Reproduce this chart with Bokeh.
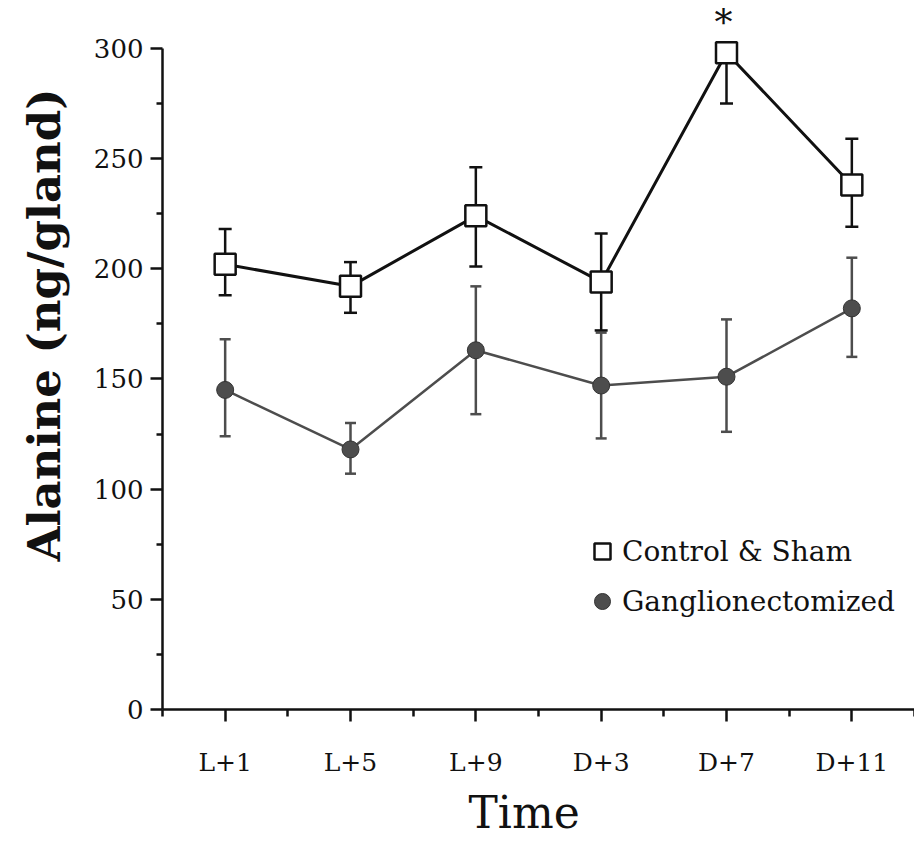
from bokeh.plotting import figure
from bokeh.models import (ColumnDataSource, FixedTicker, Range1d,
                          Legend, LegendItem, Title)
from bokeh.core.properties import value
from bokeh.embed import file_html
from bokeh.resources import INLINE

# ---- data ----
categories = ["L+1", "L+5", "L+9", "D+3", "D+7", "D+11"]
ctrl_mean = [202, 192, 224, 194, 298, 238]
ctrl_hi = [218, 203, 246, 216, 298, 259]
ctrl_lo = [188, 180, 201, 172, 275, 219]
gang_mean = [145, 118, 163, 147, 151, 182]
gang_hi = [168, 130, 192, 171, 177, 205]
gang_lo = [124, 107, 134, 123, 126, 160]
sig_marks = ["", "", "", "", "*", ""]
y_ticks = [0, 50, 100, 150, 200, 250, 300]
y_minor = [25, 75, 125, 175, 225, 275]

FONT = "DejaVu Serif"
BLACK = "#111111"
GREY = "#4d4d4d"

xs = list(range(1, len(categories) + 1))
x_minor = [x - 0.5 for x in xs] + [xs[-1] + 0.5]

ctrl = ColumnDataSource(dict(x=xs, m=ctrl_mean, hi=ctrl_hi, lo=ctrl_lo, sig=sig_marks))
gang = ColumnDataSource(dict(x=xs, m=gang_mean, hi=gang_hi, lo=gang_lo))

p = figure(width=914, height=842,
           x_range=Range1d(0.5, 6.5), y_range=Range1d(0, 321.7),
           output_backend="svg", toolbar_location=None,
           min_border_left=162, min_border_right=0,
           min_border_top=0, min_border_bottom=132)
p.grid.visible = False
p.outline_line_color = None
p.background_fill_color = "white"
p.border_fill_color = "white"

# ---- Ganglionectomized (grey) ----
p.segment(x0="x", y0="lo", x1="x", y1="hi", source=gang, line_color=GREY, line_width=2.5)
p.scatter(x="x", y="hi", source=gang, marker="dash", size=11, line_color=GREY, line_width=2.5)
p.scatter(x="x", y="lo", source=gang, marker="dash", size=11, line_color=GREY, line_width=2.5)
p.line(x="x", y="m", source=gang, line_color=GREY, line_width=2.5)
gang_c = p.scatter(x="x", y="m", source=gang, marker="circle", size=17,
                   fill_color=GREY, line_color="#333333", line_width=1)

# ---- Control & Sham (black) ----
p.segment(x0="x", y0="lo", x1="x", y1="hi", source=ctrl, line_color=BLACK, line_width=2.5)
p.scatter(x="x", y="hi", source=ctrl, marker="dash", size=13, line_color=BLACK, line_width=2.5)
p.scatter(x="x", y="lo", source=ctrl, marker="dash", size=13, line_color=BLACK, line_width=2.5)
p.line(x="x", y="m", source=ctrl, line_color=BLACK, line_width=3)
ctrl_sq = p.scatter(x="x", y="m", source=ctrl, marker="square", size=21,
                    fill_color="white", line_color=BLACK, line_width=2.5)

# significance mark
p.text(x="x", y="m", text="sig", source=ctrl, text_font=value(FONT),
       text_font_size="36px", text_align="center", text_baseline="alphabetic",
       y_offset=-30, x_offset=-3, text_color=BLACK)

# ---- axes ----
xa = p.xaxis[0]
xa.ticker = FixedTicker(ticks=xs, minor_ticks=x_minor)
xa.major_label_overrides = {x: c for x, c in zip(xs, categories)}
xa.major_tick_out = 12
xa.major_tick_in = 0
xa.minor_tick_out = 7
xa.minor_tick_in = 0
xa.axis_line_width = 2.5
xa.major_tick_line_width = 2.5
xa.minor_tick_line_width = 2.5
xa.axis_line_color = BLACK
xa.major_tick_line_color = BLACK
xa.minor_tick_line_color = BLACK
xa.major_label_text_font = FONT
xa.major_label_text_font_size = "25px"
xa.major_label_text_color = BLACK
xa.major_label_standoff = 26

ya = p.yaxis[0]
ya.ticker = FixedTicker(ticks=y_ticks, minor_ticks=y_minor)
ya.bounds = (0, 300)
ya.major_tick_out = 12
ya.major_tick_in = 0
ya.minor_tick_out = 6
ya.minor_tick_in = 0
ya.axis_line_width = 2.5
ya.major_tick_line_width = 2.5
ya.minor_tick_line_width = 2.5
ya.axis_line_color = BLACK
ya.major_tick_line_color = BLACK
ya.minor_tick_line_color = BLACK
ya.major_label_text_font = FONT
ya.major_label_text_font_size = "26px"
ya.major_label_text_color = BLACK
ya.major_label_standoff = 7

# axis titles (off-centre like the reference)
p.add_layout(Title(text="Alanine (ng/gland)", align="left", offset=148,
                   vertical_align="top", standoff=35,
                   text_font=FONT, text_font_size="45px",
                   text_font_style="bold", text_color=BLACK), "left")
p.add_layout(Title(text="Time", align="left", offset=306,
                   standoff=10, text_font=FONT, text_font_size="44px",
                   text_font_style="normal", text_color=BLACK), "below")

# ---- legend ----
legend = Legend(items=[LegendItem(label="Control & Sham", renderers=[ctrl_sq]),
                       LegendItem(label="Ganglionectomized", renderers=[gang_c])],
                location=(420, 88), orientation="vertical",
                border_line_color=None, background_fill_alpha=0,
                padding=0, margin=0, spacing=10,
                glyph_width=40, glyph_height=40, label_height=40,
                label_standoff=0,
                label_text_font=FONT, label_text_font_size="28px",
                label_text_color=BLACK)
p.add_layout(legend)

open("out.html", "w").write(file_html(p, INLINE))
